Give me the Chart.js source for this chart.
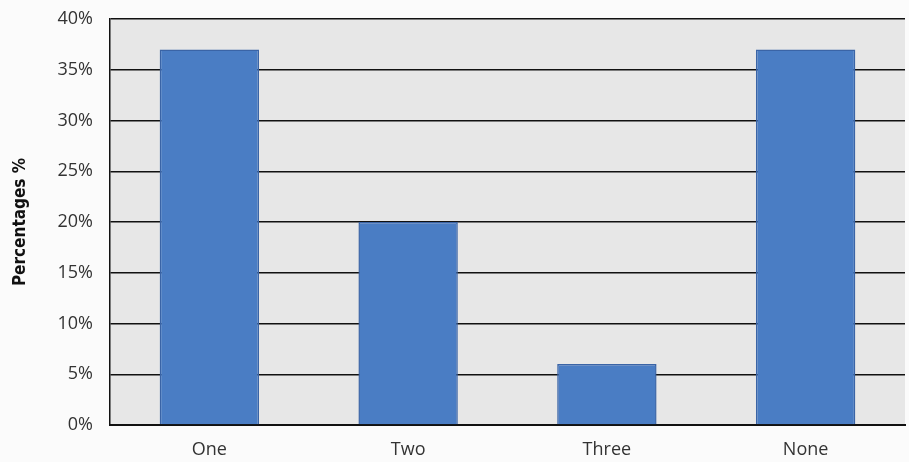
<!DOCTYPE html>
<html>
<head>
<meta charset="utf-8">
<script src="https://cdn.jsdelivr.net/npm/chart.js@4"></script>
<style>
  html, body { margin: 0; padding: 0; background: #fbfbfb; }
  #wrap { width: 909px; height: 462px; }
</style>
</head>
<body>
<div id="wrap"><canvas id="chart" width="909" height="462"></canvas></div>
<script>
// Data
const categories = ['One', 'Two', 'Three', 'None'];
const percentages = [37, 20, 6, 37];
const yTicks = [0, 5, 10, 15, 20, 25, 30, 35, 40];

// Grey plot background
const plotBg = {
  id: 'plotBg',
  beforeDraw(chart) {
    const { ctx, chartArea: a } = chart;
    ctx.save();
    ctx.fillStyle = '#e7e7e7';
    ctx.fillRect(a.left, a.top, a.right - a.left, a.bottom - a.top);
    ctx.restore();
  }
};

new Chart(document.getElementById('chart'), {
  type: 'bar',
  data: {
    labels: categories,
    datasets: [{
      data: percentages,
      backgroundColor: '#4a7dc4',
      borderColor: '#3a64a6',
      borderWidth: 1.5,
      barPercentage: 0.5,
      categoryPercentage: 1
    }]
  },
  options: {
    responsive: false,
    animation: false,
    layout: { padding: { top: 19, right: 4, left: 0, bottom: 0 } },
    plugins: {
      legend: { display: false },
      tooltip: { enabled: false }
    },
    scales: {
      x: {
        grid: { display: false },
        border: { display: true, color: '#111', width: 2 },
        ticks: {
          color: '#333',
          font: { family: 'Open Sans', size: 18 },
          padding: 6
        },
        afterFit(scale) { scale.height = 37; }
      },
      y: {
        min: 0,
        max: 40,
        afterBuildTicks(scale) { scale.ticks = yTicks.map(v => ({ value: v })); },
        grid: { color: '#111', lineWidth: 1.5, drawTicks: false },
        border: { display: true, color: '#111', width: 1.5 },
        ticks: {
          color: '#333',
          font: { family: 'Open Sans', size: 18 },
          padding: 17,
          callback: v => v + '%'
        },
        title: {
          display: true,
          text: 'Percentages %',
          color: '#111',
          font: { family: 'DejaVu Sans Condensed', size: 17, weight: 'bold' },
          padding: { top: 10, bottom: 0 }
        },
        afterFit(scale) {
          scale.width = 110;
          scale.paddingTop = 0;
          scale.paddingBottom = 0;
        }
      }
    }
  },
  plugins: [plotBg]
});
</script>
</body>
</html>
